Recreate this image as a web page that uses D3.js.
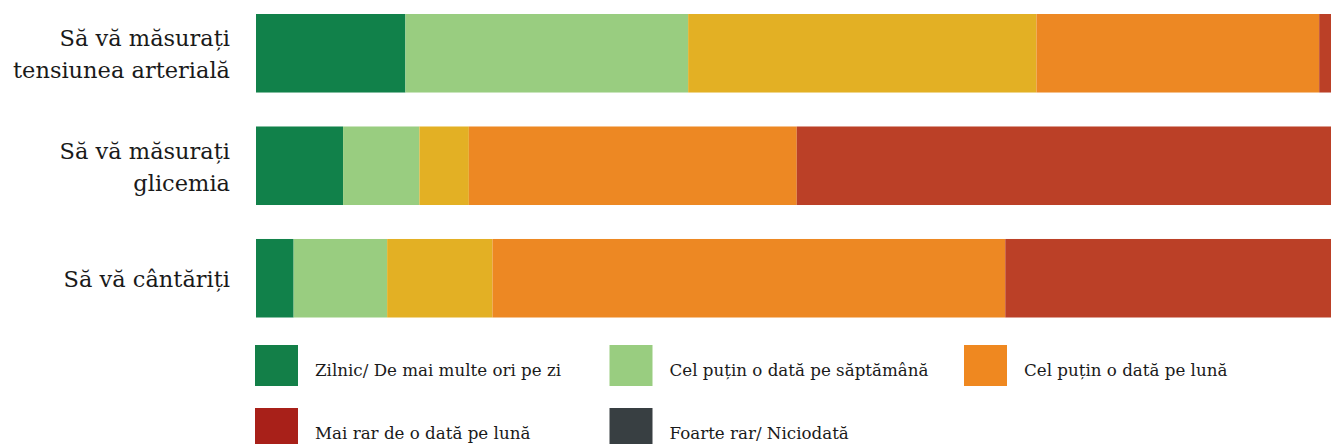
<!DOCTYPE html>
<html>
<head>
<meta charset="utf-8">
<script src="https://cdn.jsdelivr.net/npm/d3@7"></script>
<style>
  html, body { margin: 0; padding: 0; background: #fff; }
  text { font-family: "DejaVu Serif", serif; fill: #1a1a1a; }
</style>
</head>
<body>
<div id="chart"></div>
<script>
// categories (each label split on its lines)
var CATEGORIES = ["Să vă măsurați tensiunea arterială", "Să vă măsurați glicemia", "Să vă cântăriți"];
var LABEL_LINES = [
  ["Să vă măsurați", "tensiunea arterială"],
  ["Să vă măsurați", "glicemia"],
  ["Să vă cântăriți"]
];

// segment shares (%) per category, left to right
var DAILY   = [13.9, 8.1, 3.5];
var WEEKLY  = [26.3, 7.1, 8.7];
var FEW     = [32.4, 4.6, 9.8];
var MONTHLY = [26.3, 30.5, 47.7];
var RARER   = [1.1, 49.7, 30.3];

var SEGMENTS = ["daily", "weekly", "few", "monthly", "rarer"];
var SEGMENT_COLORS = ["#11814a", "#99cd80", "#e3b024", "#ed8823", "#bb4027"];

// legend entries as shown
var LEGEND_LABELS = ["Zilnic/ De mai multe ori pe zi", "Cel puțin o dată pe săptămână", "Cel puțin o dată pe lună",
  "Mai rar de o dată pe lună", "Foarte rar/ Niciodată"];
var LEGEND_COLORS = ["#137f48", "#99cd80", "#ef8820", "#a82019", "#383f42"];

var width = 1331, height = 444;

var rows = CATEGORIES.map(function(c, i) {
  return {cat: c, daily: DAILY[i], weekly: WEEKLY[i], few: FEW[i], monthly: MONTHLY[i], rarer: RARER[i]};
});

var stacked = d3.stack().keys(SEGMENTS)(rows);

var x = d3.scaleLinear().domain([0, 100]).range([256, 1331]);
var y = d3.scaleBand().domain(CATEGORIES).range([14, 317.5]).paddingInner(0.302).paddingOuter(0);
var color = d3.scaleOrdinal().domain(SEGMENTS).range(SEGMENT_COLORS);

var svg = d3.select("#chart").append("svg")
  .attr("width", width)
  .attr("height", height);

svg.append("g").selectAll("g")
  .data(stacked)
  .enter().append("g")
  .attr("fill", function(d) { return color(d.key); })
  .selectAll("rect")
  .data(function(d) { return d; })
  .enter().append("rect")
  .attr("x", function(d) { return x(d[0]); })
  .attr("y", function(d) { return y(d.data.cat); })
  .attr("width", function(d) { return x(d[1]) - x(d[0]); })
  .attr("height", y.bandwidth());

// category labels, right aligned
var lineH = 32;
var labels = svg.append("g").selectAll("text")
  .data(CATEGORIES)
  .enter().append("text")
  .attr("text-anchor", "end")
  .style("font-size", "22.5px");
labels.each(function(c, i) {
  var lines = LABEL_LINES[i];
  var cy = y(c) + y.bandwidth() / 2;
  var first = cy - (lines.length - 1) * lineH / 2 + 9;
  d3.select(this).selectAll("tspan")
    .data(lines)
    .enter().append("tspan")
    .attr("x", 230)
    .attr("y", function(l, j) { return first + j * lineH; })
    .text(function(l) { return l; });
});

// legend
var legend = svg.append("g").selectAll("g")
  .data(LEGEND_LABELS)
  .enter().append("g")
  .attr("transform", function(d, i) {
    return "translate(" + (255 + (i % 3) * 354.5) + "," + (345 + Math.floor(i / 3) * 63) + ")";
  });
legend.append("rect")
  .attr("width", 43)
  .attr("height", 41)
  .attr("fill", function(d, i) { return LEGEND_COLORS[i]; });
legend.append("text")
  .attr("x", 60)
  .attr("y", 30.5)
  .style("font-size", "16.7px")
  .text(function(d) { return d; });
</script>
</body>
</html>
